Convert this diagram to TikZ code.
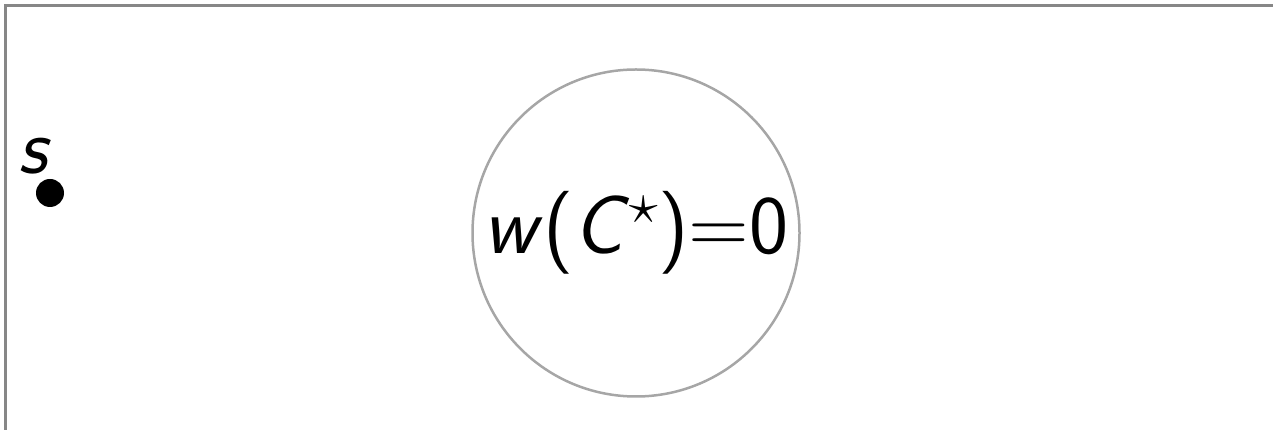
\documentclass[tikz,border=0pt]{standalone}
\usepackage{fix-cm}
\tikzset{
  frame/.style={line width=3pt, draw=black!47},
  region/.style={circle, line width=2.5pt, draw=black!35, minimum size=327pt, inner sep=0pt},
  vertex/.style={circle, fill=black, minimum size=28pt, inner sep=0pt},
  lbl/.style={font=\fontsize{80}{90}\selectfont\sffamily\slshape, inner sep=0pt}
}
\begin{document}
\begin{tikzpicture}[x=1pt,y=1pt]
\useasboundingbox (0,0) rectangle (1273,430);
\coordinate (fb) at (5.5,-5);
\coordinate (fc) at (5.5,424.5);
\coordinate (fr) at (1280,424.5);
\draw[frame] (fb) -- (fc) -- (fr);
\node[vertex] (s) at (50,237) {};
\node[lbl, anchor=base east] (sl) at (47,256) {s};
\node[region] (c) at (636,197) {};
\node[font=\fontsize{83}{90}\selectfont\sffamily, inner sep=0pt] (t) at (636,197) {\textsl{w}(\textsl{C}\raisebox{0.36em}{\fontsize{58}{60}\selectfont$\star$})=0};
\end{tikzpicture}
\end{document}
